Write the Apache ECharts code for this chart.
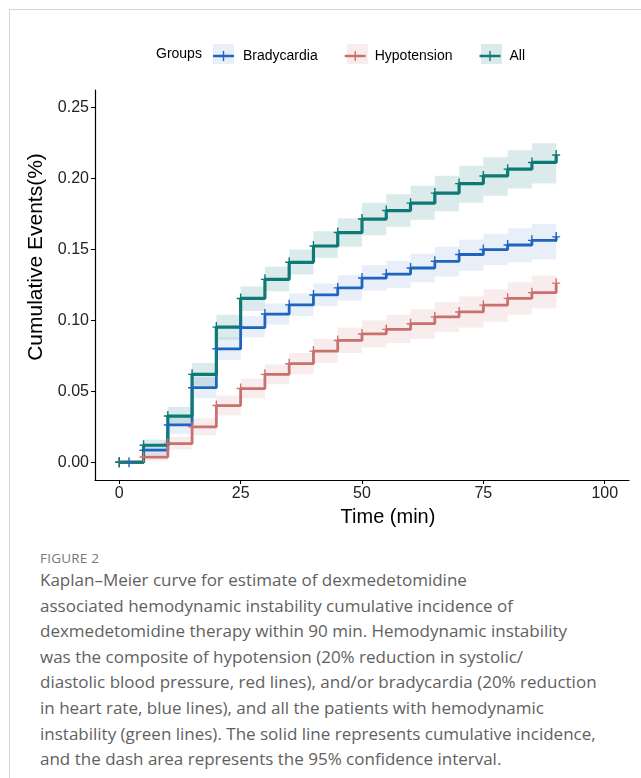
<!DOCTYPE html>
<html>
<head>
<meta charset="utf-8">
<script src="https://cdn.jsdelivr.net/npm/echarts@6/dist/echarts.min.js"></script>
<style>
  html, body { margin: 0; padding: 0; background: #fff; width: 641px; height: 778px; overflow: hidden; }
  #frame { position: absolute; left: 9px; top: 9px; width: 700px; height: 800px; border-left: 1px solid #d4d4d4; border-top: 1px solid #d4d4d4; }
  #chart { position: absolute; left: 0; top: 0; width: 641px; height: 545px; }
  #caption { position: absolute; left: 40px; top: 549px; color: #616161; font-family: "Open Sans", "Lato", sans-serif; white-space: nowrap; }
  #caption .fig { font-size: 13.5px; color: #777; letter-spacing: 0.2px; line-height: 18px; }
  #caption .txt { font-size: 17px; line-height: 25.6px; }
</style>
</head>
<body>
<div id="frame"></div>
<div id="chart"></div>
<div id="caption">
  <div class="fig">FIGURE 2</div>
  <div class="txt">Kaplan–Meier curve for estimate of dexmedetomidine<br>associated hemodynamic instability cumulative incidence of<br>dexmedetomidine therapy within 90 min. Hemodynamic instability<br>was the composite of hypotension (20% reduction in systolic/<br>diastolic blood pressure, red lines), and/or bradycardia (20% reduction<br>in heart rate, blue lines), and all the patients with hemodynamic<br>instability (green lines). The solid line represents cumulative incidence,<br>and the dash area represents the 95% confidence interval.</div>
</div>
<script>
// ---- data ----
const groupNames = ['Bradycardia', 'Hypotension', 'All'];
const xTickValues = [0, 25, 50, 75, 100];
const yTickValues = [0, 0.05, 0.10, 0.15, 0.20, 0.25];

const timesBrady = [0, 2, 5, 10, 15, 20, 25, 30, 35, 40, 45, 50, 55, 60, 65, 70, 75, 80, 85, 90];
const bradyValues = [0, 0, 0.0085, 0.0263, 0.0526, 0.080, 0.095, 0.1045, 0.111, 0.118, 0.123, 0.1299, 0.1327, 0.137, 0.1417, 0.1465, 0.150, 0.1532, 0.1565, 0.1589];

const timesHypo = [0, 5, 10, 15, 20, 25, 30, 35, 40, 45, 50, 55, 60, 65, 70, 75, 80, 85, 90];
const hypoValues = [0, 0.0037, 0.0132, 0.025, 0.040, 0.052, 0.062, 0.0695, 0.0784, 0.0859, 0.0905, 0.0937, 0.0977, 0.1025, 0.106, 0.1108, 0.1156, 0.1196, 0.1263];

const timesAll = [0, 5, 10, 15, 20, 25, 30, 35, 40, 45, 50, 55, 60, 65, 70, 75, 80, 85, 90];
const allValues = [0, 0.012, 0.0326, 0.062, 0.0953, 0.1155, 0.129, 0.141, 0.1525, 0.162, 0.1715, 0.1775, 0.1827, 0.1898, 0.1965, 0.2019, 0.2067, 0.2114, 0.2167];

// confidence band interval edges (band i spans bandEdges[i]..bandEdges[i+1])
const bandEdges = [5, 10, 15, 20, 25, 30, 35, 40, 45, 50, 55, 60, 65, 70, 75, 80, 85, 90];
const bradyLower = [0.005, 0.020, 0.045, 0.072, 0.088, 0.097, 0.103, 0.110, 0.114, 0.121, 0.123, 0.127, 0.131, 0.135, 0.139, 0.141, 0.143];
const bradyUpper = [0.012, 0.033, 0.060, 0.088, 0.103, 0.112, 0.119, 0.126, 0.132, 0.139, 0.142, 0.147, 0.152, 0.157, 0.161, 0.165, 0.168];
const hypoLower = [0.001, 0.009, 0.019, 0.033, 0.045, 0.055, 0.062, 0.070, 0.077, 0.081, 0.084, 0.087, 0.092, 0.095, 0.099, 0.104, 0.1085];
const hypoUpper = [0.007, 0.018, 0.031, 0.047, 0.059, 0.069, 0.077, 0.087, 0.095, 0.100, 0.104, 0.108, 0.113, 0.117, 0.122, 0.127, 0.1317];
const allLower = [0.008, 0.026, 0.054, 0.0866, 0.1067, 0.1206, 0.1324, 0.1441, 0.152, 0.160, 0.166, 0.171, 0.177, 0.183, 0.188, 0.193, 0.1965];
const allUpper = [0.016, 0.039, 0.070, 0.104, 0.124, 0.138, 0.150, 0.1629, 0.172, 0.183, 0.189, 0.195, 0.202, 0.209, 0.215, 0.220, 0.225];

// ---- styles ----
const lineColors = { Bradycardia: '#1f64bf', Hypotension: '#c9716f', All: '#0e7a76' };
const bandColors = { Bradycardia: 'rgba(31,100,191,0.10)', Hypotension: 'rgba(201,113,111,0.13)', All: 'rgba(14,122,118,0.15)' };
const lineWidths = { Bradycardia: 2.8, Hypotension: 2.8, All: 3.2 };
const plusPath = 'path://M-0.7,-5 L0.7,-5 L0.7,5 L-0.7,5 Z M-4,-0.7 L4,-0.7 L4,0.7 L-4,0.7 Z';
const legendIcon = 'path://M0,3.8 L21,3.8 L21,6.2 L0,6.2 Z M9.8,0 L11.2,0 L11.2,10 L9.8,10 Z';

function pairs(ts, vs) { return ts.map((t, i) => [t, vs[i]]); }
function bands(lo, hi) {
  const out = [];
  for (let i = 0; i < lo.length; i++) out.push([bandEdges[i], bandEdges[i + 1], lo[i], hi[i]]);
  return out;
}
function bandSeries(name, lo, hi) {
  return {
    type: 'custom',
    name: name + ' CI',
    silent: true,
    z: 1,
    encode: { x: [0, 1], y: [2, 3] },
    data: bands(lo, hi),
    renderItem: function (params, api) {
      const a = api.coord([api.value(0), api.value(3)]);
      const b = api.coord([api.value(1), api.value(2)]);
      return { type: 'rect', shape: { x: a[0], y: a[1], width: b[0] - a[0], height: b[1] - a[1] }, style: { fill: bandColors[name] } };
    }
  };
}
function lineSeries(name, ts, vs) {
  return {
    type: 'line',
    name: name,
    step: 'end',
    z: 3,
    data: pairs(ts, vs),
    symbol: plusPath,
    symbolSize: [8, 10],
    showSymbol: true,
    showAllSymbol: true,
    itemStyle: { color: lineColors[name] },
    lineStyle: { color: lineColors[name], width: lineWidths[name] },
    emphasis: { disabled: true },
    animation: false
  };
}

const chart = echarts.init(document.getElementById('chart'), null, { renderer: 'canvas' });
const font = '"Liberation Sans", Arial, sans-serif';
chart.setOption({
  animation: false,
  backgroundColor: 'transparent',
  textStyle: { fontFamily: font },
  grid: { left: 95, top: 90, width: 534, height: 390, containLabel: false },
  legend: {
    data: groupNames,
    left: 213, top: 49,
    itemWidth: 21, itemHeight: 10,
    itemGap: 27,
    icon: legendIcon,
    padding: 0,
    textStyle: { fontSize: 14, color: '#000', fontFamily: font, padding: [0, 0, 0, 4] },
    selectedMode: false
  },
  graphic: {
    elements: [
      { type: 'text', left: 156, top: 47, style: { text: 'Groups', fontSize: 14, fill: '#000', fontFamily: font } },
      { type: 'rect', shape: { x: 213, y: 44, width: 21, height: 20 }, style: { fill: 'rgba(31,100,191,0.10)' }, z: -1 },
      { type: 'rect', shape: { x: 347, y: 44, width: 21, height: 20 }, style: { fill: 'rgba(201,113,111,0.13)' }, z: -1 },
      { type: 'rect', shape: { x: 481, y: 44, width: 21, height: 20 }, style: { fill: 'rgba(14,122,118,0.15)' }, z: -1 }
    ]
  },
  xAxis: {
    type: 'value',
    min: -5, max: 105,
    name: 'Time (min)',
    nameLocation: 'middle',
    nameGap: 27,
    nameTextStyle: { fontSize: 20, color: '#000', fontFamily: font, padding: [0, 0, 0, 52] },
    axisLine: { show: true, onZero: false, lineStyle: { color: '#000', width: 1.2 } },
    axisTick: { show: true, length: 4, customValues: xTickValues, lineStyle: { color: '#000' } },
    axisLabel: { customValues: xTickValues, fontSize: 16, color: '#222', margin: 6, fontFamily: font },
    splitLine: { show: false }
  },
  yAxis: {
    type: 'value',
    min: -0.0125, max: 0.2625,
    name: 'Cumulative Events(%)',
    nameLocation: 'middle',
    nameGap: 45,
    nameTextStyle: { fontSize: 21, color: '#000', fontFamily: font, padding: [0, 0, 0, 56] },
    axisLine: { show: true, onZero: false, lineStyle: { color: '#000', width: 1.2 } },
    axisTick: { show: true, length: 4, customValues: yTickValues, lineStyle: { color: '#000' } },
    axisLabel: { customValues: yTickValues, fontSize: 16, color: '#222', margin: 6, fontFamily: font, formatter: v => v.toFixed(2) },
    splitLine: { show: false }
  },
  series: [
    bandSeries('Bradycardia', bradyLower, bradyUpper),
    bandSeries('Hypotension', hypoLower, hypoUpper),
    bandSeries('All', allLower, allUpper),
    lineSeries('Bradycardia', timesBrady, bradyValues),
    lineSeries('Hypotension', timesHypo, hypoValues),
    lineSeries('All', timesAll, allValues)
  ]
});
</script>
</body>
</html>
